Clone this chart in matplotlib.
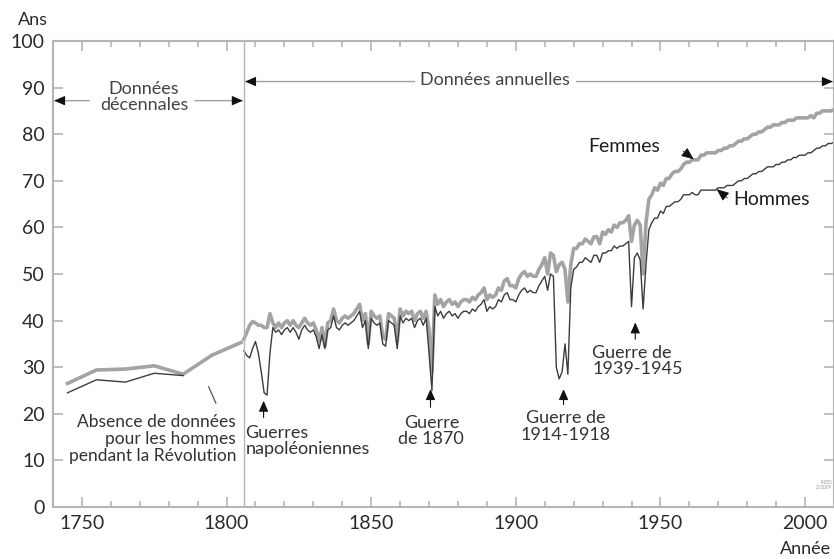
import numpy as np
import matplotlib
matplotlib.use('Agg')
import matplotlib.pyplot as plt
from matplotlib.ticker import MultipleLocator

plt.rcParams['font.family'] = ['Lato', 'DejaVu Sans']
plt.rcParams['font.size'] = 13

# decennial estimates (before 1806)
dec_years = [1745, 1755, 1765, 1775, 1785, 1795, 1805]
dec_women = [26.5, 29.4, 29.6, 30.3, 28.5, 32.6, 35.3]
dec_men_years = [1745, 1755, 1765, 1775, 1785]
dec_men = [24.5, 27.3, 26.8, 28.7, 28.2]

# annual data 1806-2010
years = list(range(1806, 2011))
women = [
    # 1806-1816
    36.0, 37.5, 39.0, 39.8, 39.5, 39.0, 39.0, 38.5, 38.5, 41.5, 39.5,
    # 1817-1830
    38.5, 39.5, 38.5, 39.5, 40.0, 39.0, 40.0, 39.0, 38.5, 39.5, 40.5, 39.5, 39.0, 39.5,
    # 1831-1845
    38.0, 35.5, 38.5, 34.5, 39.5, 40.0, 42.5, 40.0, 39.5, 40.5, 41.0, 40.5, 41.0, 41.5, 42.5,
    # 1846-1860
    43.5, 40.0, 41.5, 35.0, 42.0, 41.0, 40.5, 41.0, 36.5, 36.0, 41.5, 41.0, 40.5, 35.5, 42.5,
    # 1861-1871
    41.0, 42.0, 41.5, 42.0, 40.0, 41.5, 42.0, 40.5, 42.0, 38.0, 29.0,
    # 1872-1913
    45.5, 43.5, 44.5, 43.0, 44.0, 44.5, 43.5, 44.0, 43.0, 44.0, 44.5, 44.5, 44.0, 45.0,
    44.5, 45.5, 46.0, 47.0, 44.5, 45.5, 45.0, 45.5, 47.0, 46.5, 48.5, 49.0, 47.5, 47.5,
    47.0, 49.0, 50.0, 50.5, 49.5, 50.0, 49.5, 49.5, 51.0, 52.0, 53.5, 50.0, 54.5, 54.0,
    # 1914-1920
    50.5, 52.0, 52.5, 51.0, 44.0, 52.0, 55.5,
    # 1921-1939
    55.5, 56.5, 56.5, 57.5, 57.0, 56.5, 58.0, 58.0, 56.5, 59.0, 58.5, 59.5, 59.0, 60.5,
    60.0, 61.0, 61.0, 61.5, 62.5,
    # 1940-1946
    57.0, 60.5, 61.5, 60.5, 50.0, 61.0, 66.0,
    # 1947-1980
    67.0, 68.5, 68.0, 69.5, 69.0, 70.5, 70.5, 71.5, 72.0, 72.0, 72.5, 73.5, 74.0, 74.0,
    74.5, 74.5, 74.5, 75.5, 75.5, 76.0, 76.0, 76.0, 76.0, 76.5, 76.5, 77.0, 77.0, 77.5,
    77.5, 78.0, 78.5, 78.5, 79.0, 79.0,
    # 1981-2010
    79.5, 80.0, 80.0, 80.5, 80.5, 81.0, 81.5, 81.5, 82.0, 82.0, 82.0, 82.5, 82.5, 83.0,
    83.0, 83.0, 83.5, 83.5, 83.5, 83.5, 83.5, 84.0, 83.5, 84.5, 84.5, 85.0, 85.0, 85.0,
    85.0, 85.3,
]
men = [
    # 1806-1816
    33.5, 32.5, 32.0, 34.0, 35.5, 33.0, 29.0, 24.5, 24.0, 33.0, 38.5,
    # 1817-1830
    37.5, 38.0, 37.0, 38.0, 38.5, 37.5, 38.5, 37.5, 36.0, 38.0, 39.0, 38.0, 37.5, 38.0,
    # 1831-1845
    36.5, 34.0, 37.0, 34.0, 38.0, 38.5, 41.0, 38.5, 38.0, 39.0, 39.5, 39.0, 39.5, 40.0, 41.0,
    # 1846-1860
    42.0, 38.5, 40.0, 34.0, 40.5, 39.5, 39.0, 39.5, 35.0, 34.5, 40.0, 39.5, 39.0, 34.0, 41.0,
    # 1861-1871
    39.5, 40.5, 40.0, 40.5, 38.5, 40.0, 40.5, 39.0, 40.5, 33.0, 25.0,
    # 1872-1913
    43.0, 41.0, 42.0, 40.5, 41.5, 42.0, 41.0, 41.5, 40.5, 41.5, 42.0, 42.0, 41.5, 42.5,
    42.0, 43.0, 43.5, 44.5, 42.0, 43.0, 42.5, 43.0, 44.5, 44.0, 45.5, 46.0, 44.5, 44.5,
    44.0, 45.5, 46.5, 47.0, 46.0, 46.5, 46.0, 46.0, 47.5, 48.5, 49.5, 46.5, 50.0, 49.5,
    # 1914-1920
    30.0, 27.5, 29.0, 35.0, 28.5, 47.0, 51.0,
    # 1921-1939
    51.5, 52.5, 52.5, 53.5, 53.0, 52.5, 54.0, 54.0, 52.5, 54.5, 54.5, 55.0, 55.0, 56.0,
    55.5, 56.0, 56.0, 56.5, 57.0,
    # 1940-1946
    43.0, 53.5, 54.5, 53.0, 42.5, 52.0, 59.5,
    # 1947-1980
    61.0, 62.0, 62.0, 63.5, 63.0, 64.5, 64.5, 65.0, 65.5, 65.5, 66.0, 67.0, 67.0, 67.0,
    67.5, 67.0, 67.0, 68.0, 68.0, 68.0, 68.0, 68.0, 68.0, 68.5, 68.5, 68.5, 69.0, 69.0,
    69.0, 69.5, 70.0, 70.0, 70.5, 70.5,
    # 1981-2010
    71.0, 71.5, 71.5, 72.0, 72.0, 72.5, 73.0, 73.0, 73.0, 73.5, 73.5, 74.0, 74.0, 74.5,
    74.5, 75.0, 75.0, 75.5, 75.5, 75.5, 76.0, 76.0, 76.5, 77.0, 77.0, 77.5, 77.5, 78.0,
    78.0, 78.3,
]

y_ticks = list(range(0, 101, 10))
x_ticks = [1750, 1800, 1850, 1900, 1950, 2000]

women_col = '#a3a3a3'
men_col = '#3c3c3c'
txt_col = '#2a2a2a'
frame_col = '#b5b5b5'

fig = plt.figure(figsize=(8.34, 5.59), dpi=100)
ax = fig.add_axes([53/834, 52/559, 781/834, 466/559])

ax.plot(dec_years, dec_women, color=women_col, lw=2.6)
ax.plot(dec_men_years, dec_men, color=men_col, lw=1.0)
ax.plot(years, women, color=women_col, lw=2.6)
ax.plot(years, men, color=men_col, lw=1.0)

ax.set_xlim(1740, 2010)
ax.set_ylim(0, 100)
ax.set_xticks(x_ticks)
ax.set_yticks(y_ticks)
ax.xaxis.set_minor_locator(MultipleLocator(10))
ax.tick_params(which='both', direction='in', top=True, right=True,
               color=frame_col, width=1.2, labelcolor=txt_col, labelsize=14)
ax.tick_params(which='major', length=7, pad=6)
ax.tick_params(which='minor', length=4)
for s in ax.spines.values():
    s.set_color(frame_col)
    s.set_linewidth(1.5)

# separator between decennial and annual data
ax.axvline(1806, color=frame_col, lw=1.0)

line_kw = dict(arrowstyle='-', color='#a0a0a0', lw=1.0, shrinkA=0, shrinkB=0)
head_kw = dict(arrowstyle='-|>,head_length=0.5,head_width=0.22', fc='#111111',
               ec='#111111', lw=0.8, shrinkA=0, shrinkB=0)


def range_arrow(x0, x1, y):
    # grey shaft, small dark head at the end
    ax.annotate('', xy=(x1, y), xytext=(x0, y), arrowprops=line_kw)
    step = 2.5 if x1 > x0 else -2.5
    ax.annotate('', xy=(x1, y), xytext=(x1 - step, y), arrowprops=head_kw)


# Données décennales
range_arrow(1752.5, 1740.4, 87.2)
range_arrow(1789.0, 1805.6, 87.2)
ax.text(1771.5, 88.0, 'Données\ndécennales', ha='center', va='center',
        color='#444444', fontsize=13, linespacing=1.05)

# Données annuelles
range_arrow(1865.0, 1806.4, 91.3)
range_arrow(1921.0, 2009.6, 91.3)
ax.text(1892.8, 91.6, 'Données annuelles', ha='center', va='center',
        color='#444444', fontsize=13)

# series labels
ax.text(1925, 77.3, 'Femmes', ha='left', va='center', color='#1e1e1e', fontsize=14)
ax.annotate('', xy=(1961.5, 74.6), xytext=(1957.8, 76.4),
            arrowprops=dict(arrowstyle='-|>,head_length=0.6,head_width=0.25',
                            fc='#111111', ec='#111111', lw=0.5, shrinkA=0, shrinkB=0))
ax.text(1975.3, 65.9, 'Hommes', ha='left', va='center', color='#1e1e1e', fontsize=14)
ax.annotate('', xy=(1969.4, 68.2), xytext=(1973.2, 66.3),
            arrowprops=dict(arrowstyle='-|>,head_length=0.6,head_width=0.25',
                            fc='#111111', ec='#111111', lw=0.5, shrinkA=0, shrinkB=0))

# absence note
ax.plot([1793.8, 1796.3], [25.8, 22.3], color='#555555', lw=0.9)
ax.text(1803.3, 14.6, 'Absence de données\npour les hommes\npendant la Révolution',
        ha='right', va='center', color='#333333', fontsize=12.5, linespacing=1.05)

# wars
ax.annotate('', xy=(1812.8, 22.8), xytext=(1812.8, 19.2), arrowprops=head_kw)
ax.text(1806.5, 14.2, 'Guerres\nnapoléoniennes', ha='left', va='center',
        color='#333333', fontsize=13, linespacing=1.05)

ax.annotate('', xy=(1870.5, 25.3), xytext=(1870.5, 21.4), arrowprops=head_kw)
ax.text(1870.8, 16.3, 'Guerre\nde 1870', ha='center', va='center',
        color='#333333', fontsize=13, linespacing=1.05)

ax.annotate('', xy=(1916.5, 25.3), xytext=(1916.5, 22.0), arrowprops=head_kw)
ax.text(1917.1, 17.3, 'Guerre de\n1914-1918', ha='center', va='center',
        color='#333333', fontsize=13, linespacing=1.05)

ax.annotate('', xy=(1941.3, 39.6), xytext=(1941.3, 36.0), arrowprops=head_kw)
ax.text(1926.4, 31.3, 'Guerre de\n1939-1945', ha='left', va='center',
        color='#333333', fontsize=13, linespacing=1.05)

ax.text(2009.3, 4.8, 'INED\n2/2009', ha='right', va='center', color='#999999',
        fontsize=3.5, linespacing=0.9)

fig.text(33/834, 1 - 20/559, 'Ans', ha='center', va='center', color=txt_col, fontsize=13)
fig.text(831/834, 1 - 549/559, 'Année', ha='right', va='center', color=txt_col, fontsize=13)

fig.savefig('out.png', dpi=100)
